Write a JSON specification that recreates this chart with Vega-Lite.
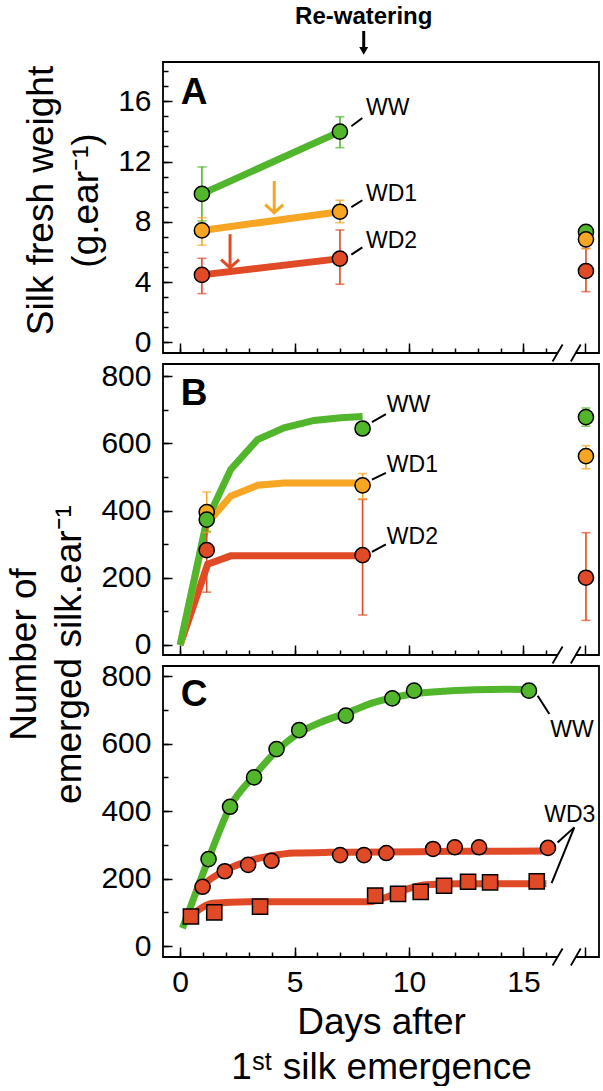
{
"$schema": "https://vega.github.io/schema/vega-lite/v6.json",
"padding": {"left": 4, "top": 4, "right": 0, "bottom": 0},
"background": "white",
"spacing": 11,
"bounds": "flush",
"config": {
  "font": "Liberation Sans",
  "view": {"stroke": "#000", "strokeWidth": 1.8},
  "axis": {"grid": false, "domain": false, "labelFont": "Liberation Sans", "titleFont": "Liberation Sans", "labelFontSize": 30, "titleFontSize": 37, "titleFontWeight": "normal", "labelColor": "#000", "titleColor": "#000", "tickColor": "#000", "tickWidth": 1.5, "labelFlush": false, "labelOverlap": false, "labelBound": false}
},
"datasets": {
  "pts": [
    {"p":"A","s":"WW","x":0.95,"y":9.85,"lo":8.06,"hi":11.64,"sh":"circle"},
    {"p":"A","s":"WW","x":6.98,"y":13.98,"lo":12.92,"hi":14.97,"sh":"circle"},
    {"p":"A","s":"WW","x":17.73,"y":7.33,"lo":null,"hi":null,"sh":"circle"},
    {"p":"A","s":"WD1","x":0.95,"y":7.43,"lo":6.45,"hi":8.28,"sh":"circle"},
    {"p":"A","s":"WD1","x":6.98,"y":8.67,"lo":7.94,"hi":9.43,"sh":"circle"},
    {"p":"A","s":"WD1","x":17.73,"y":6.84,"lo":6.2,"hi":7.4,"sh":"circle"},
    {"p":"A","s":"WD2","x":0.95,"y":4.48,"lo":3.24,"hi":5.58,"sh":"circle"},
    {"p":"A","s":"WD2","x":6.98,"y":5.56,"lo":3.86,"hi":7.46,"sh":"circle"},
    {"p":"A","s":"WD2","x":17.73,"y":4.74,"lo":3.37,"hi":6.25,"sh":"circle"},
    {"p":"B","s":"WD1","x":1.16,"y":395,"lo":335,"hi":455,"sh":"circle"},
    {"p":"B","s":"WW","x":1.16,"y":373,"lo":338,"hi":408,"sh":"circle"},
    {"p":"B","s":"WD2","x":1.16,"y":282,"lo":157,"hi":407,"sh":"circle"},
    {"p":"B","s":"WW","x":7.97,"y":644,"lo":630,"hi":658,"sh":"circle"},
    {"p":"B","s":"WD1","x":7.97,"y":475,"lo":435,"hi":510,"sh":"circle"},
    {"p":"B","s":"WD2","x":7.97,"y":267,"lo":89,"hi":433,"sh":"circle"},
    {"p":"B","s":"WW","x":17.73,"y":678,"lo":651,"hi":705,"sh":"circle"},
    {"p":"B","s":"WD1","x":17.73,"y":562,"lo":524,"hi":593,"sh":"circle"},
    {"p":"B","s":"WD2","x":17.73,"y":200,"lo":73,"hi":334,"sh":"circle"},
    {"p":"C","s":"WW","x":1.24,"y":258,"sh":"circle"},
    {"p":"C","s":"WW","x":2.18,"y":413,"sh":"circle"},
    {"p":"C","s":"WW","x":3.23,"y":500,"sh":"circle"},
    {"p":"C","s":"WW","x":4.21,"y":584,"sh":"circle"},
    {"p":"C","s":"WW","x":5.2,"y":640,"sh":"circle"},
    {"p":"C","s":"WW","x":7.24,"y":683,"sh":"circle"},
    {"p":"C","s":"WW","x":9.27,"y":734,"sh":"circle"},
    {"p":"C","s":"WW","x":10.22,"y":757,"sh":"circle"},
    {"p":"C","s":"WW","x":15.24,"y":757,"sh":"circle"},
    {"p":"C","s":"WD3","x":0.98,"y":176,"sh":"circle"},
    {"p":"C","s":"WD3","x":1.95,"y":222,"sh":"circle"},
    {"p":"C","s":"WD3","x":2.97,"y":241,"sh":"circle"},
    {"p":"C","s":"WD3","x":3.99,"y":253,"sh":"circle"},
    {"p":"C","s":"WD3","x":6.99,"y":270,"sh":"circle"},
    {"p":"C","s":"WD3","x":8.03,"y":270,"sh":"circle"},
    {"p":"C","s":"WD3","x":9.01,"y":276,"sh":"circle"},
    {"p":"C","s":"WD3","x":11.05,"y":288,"sh":"circle"},
    {"p":"C","s":"WD3","x":12.0,"y":293,"sh":"circle"},
    {"p":"C","s":"WD3","x":13.06,"y":293,"sh":"circle"},
    {"p":"C","s":"WD3","x":16.07,"y":291,"sh":"circle"},
    {"p":"C","s":"WD3","x":0.47,"y":88,"sh":"square"},
    {"p":"C","s":"WD3","x":1.49,"y":100,"sh":"square"},
    {"p":"C","s":"WD3","x":3.49,"y":117,"sh":"square"},
    {"p":"C","s":"WD3","x":8.52,"y":150,"sh":"square"},
    {"p":"C","s":"WD3","x":9.52,"y":155,"sh":"square"},
    {"p":"C","s":"WD3","x":10.51,"y":161,"sh":"square"},
    {"p":"C","s":"WD3","x":11.53,"y":179,"sh":"square"},
    {"p":"C","s":"WD3","x":12.58,"y":191,"sh":"square"},
    {"p":"C","s":"WD3","x":13.54,"y":189,"sh":"square"},
    {"p":"C","s":"WD3","x":15.58,"y":192,"sh":"square"}
  ],
  "lns": [
    {"p":"A","s":"WW","g":"a1","x":0.95,"y":9.85},
    {"p":"A","s":"WW","g":"a1","x":6.98,"y":13.98},
    {"p":"A","s":"WD1","g":"a2","x":0.95,"y":7.43},
    {"p":"A","s":"WD1","g":"a2","x":6.98,"y":8.67},
    {"p":"A","s":"WD2","g":"a3","x":0.95,"y":4.48},
    {"p":"A","s":"WD2","g":"a3","x":6.98,"y":5.56},
    {"p":"B","s":"WD2","g":"b3","x":0,"y":0},
    {"p":"B","s":"WD2","g":"b3","x":1.2,"y":240},
    {"p":"B","s":"WD2","g":"b3","x":2.21,"y":265},
    {"p":"B","s":"WD2","g":"b3","x":7.97,"y":265},
    {"p":"B","s":"WD1","g":"b2","x":0,"y":0},
    {"p":"B","s":"WD1","g":"b2","x":1.16,"y":360},
    {"p":"B","s":"WD1","g":"b2","x":2.21,"y":443},
    {"p":"B","s":"WD1","g":"b2","x":3.38,"y":475},
    {"p":"B","s":"WD1","g":"b2","x":4.54,"y":482},
    {"p":"B","s":"WD1","g":"b2","x":7.97,"y":482},
    {"p":"B","s":"WW","g":"b1","x":0,"y":0},
    {"p":"B","s":"WW","g":"b1","x":1.16,"y":370},
    {"p":"B","s":"WW","g":"b1","x":2.21,"y":522},
    {"p":"B","s":"WW","g":"b1","x":3.38,"y":611},
    {"p":"B","s":"WW","g":"b1","x":4.54,"y":646},
    {"p":"B","s":"WW","g":"b1","x":5.85,"y":668},
    {"p":"B","s":"WW","g":"b1","x":7.02,"y":676},
    {"p":"B","s":"WW","g":"b1","x":7.97,"y":680},
    {"p":"C","s":"WW","g":"c1","x":0.1,"y":53},
    {"p":"C","s":"WW","g":"c1","x":0.47,"y":120},
    {"p":"C","s":"WW","g":"c1","x":1.24,"y":258},
    {"p":"C","s":"WW","g":"c1","x":2.18,"y":413},
    {"p":"C","s":"WW","g":"c1","x":3.23,"y":505},
    {"p":"C","s":"WW","g":"c1","x":4.21,"y":578},
    {"p":"C","s":"WW","g":"c1","x":5.2,"y":632},
    {"p":"C","s":"WW","g":"c1","x":6.2,"y":665},
    {"p":"C","s":"WW","g":"c1","x":7.24,"y":690},
    {"p":"C","s":"WW","g":"c1","x":8.48,"y":722},
    {"p":"C","s":"WW","g":"c1","x":9.27,"y":736},
    {"p":"C","s":"WW","g":"c1","x":10.22,"y":748},
    {"p":"C","s":"WW","g":"c1","x":11.5,"y":755},
    {"p":"C","s":"WW","g":"c1","x":12.84,"y":760},
    {"p":"C","s":"WW","g":"c1","x":14.3,"y":761},
    {"p":"C","s":"WW","g":"c1","x":15.24,"y":760},
    {"p":"C","s":"WD3","g":"c2","x":0.7,"y":160},
    {"p":"C","s":"WD3","g":"c2","x":0.98,"y":180},
    {"p":"C","s":"WD3","g":"c2","x":1.95,"y":224},
    {"p":"C","s":"WD3","g":"c2","x":2.97,"y":252},
    {"p":"C","s":"WD3","g":"c2","x":3.99,"y":268},
    {"p":"C","s":"WD3","g":"c2","x":5.0,"y":276},
    {"p":"C","s":"WD3","g":"c2","x":6.5,"y":278},
    {"p":"C","s":"WD3","g":"c2","x":9.0,"y":279},
    {"p":"C","s":"WD3","g":"c2","x":12.0,"y":281},
    {"p":"C","s":"WD3","g":"c2","x":16.2,"y":282},
    {"p":"C","s":"WD3","g":"c3","x":0.3,"y":85},
    {"p":"C","s":"WD3","g":"c3","x":0.47,"y":92},
    {"p":"C","s":"WD3","g":"c3","x":1.41,"y":127},
    {"p":"C","s":"WD3","g":"c3","x":3.0,"y":132},
    {"p":"C","s":"WD3","g":"c3","x":8.3,"y":132},
    {"p":"C","s":"WD3","g":"c3","x":9.0,"y":145},
    {"p":"C","s":"WD3","g":"c3","x":10.05,"y":172},
    {"p":"C","s":"WD3","g":"c3","x":10.77,"y":182},
    {"p":"C","s":"WD3","g":"c3","x":12.2,"y":185},
    {"p":"C","s":"WD3","g":"c3","x":16.0,"y":185}
  ],
  "lbl": [
    {"p":"A","k":"lab","t":"WW","x":8.12,"y":15.07},
    {"p":"A","k":"lab","t":"WD1","x":8.12,"y":9.38},
    {"p":"A","k":"lab","t":"WD2","x":8.12,"y":6.29},
    {"p":"A","k":"let","t":"A","x":0.03,"y":15.8},
    {"p":"A","k":"rw","t":"Re-watering","x":8.02,"y":21.12},
    {"p":"B","k":"lab","t":"WW","x":9.03,"y":692},
    {"p":"B","k":"lab","t":"WD1","x":9.03,"y":515},
    {"p":"B","k":"lab","t":"WD2","x":9.03,"y":299},
    {"p":"B","k":"let","t":"B","x":0.03,"y":713},
    {"p":"C","k":"lab","t":"WW","x":16.17,"y":620.6},
    {"p":"C","k":"lab","t":"WD3","x":15.91,"y":366.7},
    {"p":"C","k":"let","t":"C","x":0.03,"y":712}
  ],
  "ldr": [
    {"p":"A","x":7.48,"y":14.34,"x2":7.96,"y2":14.89},
    {"p":"A","x":7.48,"y":8.98,"x2":7.96,"y2":9.43},
    {"p":"A","x":7.48,"y":5.82,"x2":7.96,"y2":6.31},
    {"p":"B","x":8.38,"y":663,"x2":8.99,"y2":687},
    {"p":"B","x":8.38,"y":492,"x2":8.99,"y2":512},
    {"p":"B","x":8.38,"y":277,"x2":8.99,"y2":299},
    {"p":"C","x":15.62,"y":742,"x2":16.13,"y2":688},
    {"p":"C","x":17.22,"y":352,"x2":16.49,"y2":307},
    {"p":"C","x":17.22,"y":352,"x2":16.23,"y2":187}
  ],
  "brk": [
    {"p":"A","k":"gap","x":16.49,"x2":17.28,"y":-0.7,"y2":-0.7},
    {"p":"A","k":"sl","x":16.27,"x2":16.71,"y":-1.26,"y2":-0.14},
    {"p":"A","k":"sl","x":17.07,"x2":17.5,"y":-1.26,"y2":-0.14},
    {"p":"B","k":"gap","x":16.49,"x2":17.28,"y":-30,"y2":-30},
    {"p":"B","k":"sl","x":16.27,"x2":16.71,"y":-55.3,"y2":-4.7},
    {"p":"B","k":"sl","x":17.07,"x2":17.5,"y":-55.3,"y2":-4.7},
    {"p":"C","k":"gap","x":16.49,"x2":17.28,"y":-32,"y2":-32},
    {"p":"C","k":"sl","x":16.27,"x2":16.71,"y":-57.2,"y2":-6.8},
    {"p":"C","k":"sl","x":17.07,"x2":17.5,"y":-57.2,"y2":-6.8}
  ],
  "arr": [
    {"s":"WD1","x":4.11,"y":10.71,"y2":8.61,"hy":8.61},
    {"s":"WD2","x":2.18,"y":7.18,"y2":4.96,"hy":4.96},
    {"s":"K","x":8.02,"y":20.66,"y2":19.5,"hy":19.33}
  ]
},
"vconcat": [
 {
  "width": 436, "height": 291,
  "resolve": {"axis": {"x": "independent", "y": "independent"}},
  "layer": [
   {"data": {"name": "lns"}, "transform": [{"filter": "datum.p==='A'"}],
    "mark": {"type": "line", "strokeWidth": 7},
    "encoding": {
      "x": {"field": "x", "type": "quantitative", "scale": {"domain": [-0.75, 18.3], "nice": false, "zero": false}, "axis": null},
      "y": {"field": "y", "type": "quantitative", "scale": {"domain": [-0.7, 18.6], "nice": false, "zero": false},
            "axis": {"orient": "left", "values": [0, 4, 8, 12, 16], "ticks": false, "labelPadding": 12, "title": ["Silk fresh weight", "(g.ear⁻¹)"], "titleX": -111, "titleY": 138, "titleAngle": -90, "titleAlign": "center", "titleBaseline": "alphabetic", "titleLineHeight": 45}},
      "color": {"field": "s", "type": "nominal", "scale": {"domain": ["WW","WD1","WD2","WD3","K"], "range": ["#52b62c","#f6a623","#e04a26","#e04a26","#000000"]}, "legend": null},
      "detail": {"field": "g"}}},
   {"data": {"name": "brk"}, "transform": [{"filter": "datum.p==='A' && datum.k==='gap'"}],
    "mark": {"type": "rule", "color": "white", "strokeWidth": 4},
    "encoding": {
      "x": {"field": "x", "type": "quantitative", "axis": {"orient": "bottom", "values": [0, 5, 10, 15, 17.7], "labels": false, "tickSize": -10, "title": null}},
      "x2": {"field": "x2"},
      "y": {"field": "y", "type": "quantitative", "axis": {"orient": "left", "values": [0, 4, 8, 12, 16], "labels": false, "tickSize": -9, "title": null}},
      "y2": {"field": "y2"}}},
   {"data": {"name": "brk"}, "transform": [{"filter": "datum.p==='A' && datum.k==='sl'"}],
    "mark": {"type": "rule", "color": "black", "strokeWidth": 1.8},
    "encoding": {
      "x": {"field": "x", "type": "quantitative", "axis": {"orient": "bottom", "values": [0,1,2,3,4,5,6,7,8,9,10,11,12,13,14,15,16], "labels": false, "tickSize": -5, "title": null}},
      "x2": {"field": "x2"},
      "y": {"field": "y", "type": "quantitative", "axis": {"orient": "left", "values": [0,1,2,3,4,5,6,7,8,9,10,11,12,13,14,15,16,17,18], "labels": false, "tickSize": -5, "title": null}},
      "y2": {"field": "y2"}}},
   {"data": {"name": "pts"}, "transform": [{"filter": "datum.p==='A' && datum.lo != null"}],
    "mark": {"type": "rule", "strokeWidth": 1.6},
    "encoding": {"x": {"field": "x", "type": "quantitative", "axis": null}, "y": {"field": "lo", "type": "quantitative", "axis": null}, "y2": {"field": "hi"}, "color": {"field": "s", "type": "nominal", "legend": null}}},
   {"data": {"name": "pts"}, "transform": [{"filter": "datum.p==='A' && datum.lo != null"}],
    "mark": {"type": "tick", "orient": "horizontal", "size": 9, "thickness": 1.6},
    "encoding": {"x": {"field": "x", "type": "quantitative", "axis": null}, "y": {"field": "hi", "type": "quantitative", "axis": null}, "color": {"field": "s", "type": "nominal", "legend": null}}},
   {"data": {"name": "pts"}, "transform": [{"filter": "datum.p==='A' && datum.lo != null"}],
    "mark": {"type": "tick", "orient": "horizontal", "size": 9, "thickness": 1.6},
    "encoding": {"x": {"field": "x", "type": "quantitative", "axis": null}, "y": {"field": "lo", "type": "quantitative", "axis": null}, "color": {"field": "s", "type": "nominal", "legend": null}}},
   {"data": {"name": "pts"}, "transform": [{"filter": "datum.p==='A'"}],
    "mark": {"type": "point", "filled": true, "opacity": 1, "stroke": "black", "strokeWidth": 1.5, "size": 230},
    "encoding": {"x": {"field": "x", "type": "quantitative", "axis": null}, "y": {"field": "y", "type": "quantitative", "axis": null}, "color": {"field": "s", "type": "nominal", "legend": null}, "shape": {"field": "sh", "type": "nominal", "scale": {"domain": ["circle","square"], "range": ["circle","square"]}, "legend": null}}},
   {"data": {"name": "ldr"}, "transform": [{"filter": "datum.p==='A'"}],
    "mark": {"type": "rule", "color": "black", "strokeWidth": 2},
    "encoding": {"x": {"field": "x", "type": "quantitative", "axis": null}, "x2": {"field": "x2"}, "y": {"field": "y", "type": "quantitative", "axis": null}, "y2": {"field": "y2"}}},
   {"data": {"name": "lbl"}, "transform": [{"filter": "datum.p==='A' && datum.k==='lab'"}],
    "mark": {"type": "text", "align": "left", "baseline": "alphabetic", "fontSize": 23, "font": "Liberation Sans", "color": "black"},
    "encoding": {"x": {"field": "x", "type": "quantitative", "axis": null}, "y": {"field": "y", "type": "quantitative", "axis": null}, "text": {"field": "t"}}},
   {"data": {"name": "lbl"}, "transform": [{"filter": "datum.p==='A' && datum.k==='let'"}],
    "mark": {"type": "text", "align": "left", "baseline": "alphabetic", "fontSize": 37, "fontWeight": "bold", "font": "Liberation Sans", "color": "black"},
    "encoding": {"x": {"field": "x", "type": "quantitative", "axis": null}, "y": {"field": "y", "type": "quantitative", "axis": null}, "text": {"field": "t"}}},
   {"data": {"name": "lbl"}, "transform": [{"filter": "datum.p==='A' && datum.k==='rw'"}],
    "mark": {"type": "text", "align": "center", "baseline": "alphabetic", "fontSize": 24, "fontWeight": "bold", "font": "Liberation Sans", "color": "black"},
    "encoding": {"x": {"field": "x", "type": "quantitative", "axis": null}, "y": {"field": "y", "type": "quantitative", "axis": null}, "text": {"field": "t"}}},
   {"data": {"name": "arr"},
    "mark": {"type": "rule", "strokeWidth": 3},
    "encoding": {"x": {"field": "x", "type": "quantitative", "axis": null}, "y": {"field": "y", "type": "quantitative", "axis": null}, "y2": {"field": "y2"}, "color": {"field": "s", "type": "nominal", "legend": null}}},
   {"data": {"name": "arr"}, "transform": [{"filter": "datum.s!=='K'"}],
    "mark": {"type": "point", "filled": false, "opacity": 1, "strokeWidth": 3, "size": 324, "shape": "M-1,-0.9L0,0L1,-0.9"},
    "encoding": {"x": {"field": "x", "type": "quantitative", "axis": null}, "y": {"field": "hy", "type": "quantitative", "axis": null}, "color": {"field": "s", "type": "nominal", "legend": null}}},
   {"data": {"name": "arr"}, "transform": [{"filter": "datum.s==='K'"}],
    "mark": {"type": "point", "filled": true, "opacity": 1, "size": 80, "shape": "triangle-down", "color": "black"},
    "encoding": {"x": {"field": "x", "type": "quantitative", "axis": null}, "y": {"field": "hy", "type": "quantitative", "axis": null}}}
  ]
 },
 {
  "width": 436, "height": 291,
  "resolve": {"axis": {"x": "independent", "y": "independent"}},
  "layer": [
   {"data": {"name": "lns"}, "transform": [{"filter": "datum.p==='B'"}],
    "mark": {"type": "line", "strokeWidth": 7},
    "encoding": {
      "x": {"field": "x", "type": "quantitative", "scale": {"domain": [-0.75, 18.3], "nice": false, "zero": false}, "axis": null},
      "y": {"field": "y", "type": "quantitative", "scale": {"domain": [-30, 836], "nice": false, "zero": false},
            "axis": {"orient": "left", "values": [0, 200, 400, 600, 800], "ticks": false, "labelPadding": 12, "title": ["Number of", "emerged silk.ear⁻¹"], "titleX": -128, "titleY": 290, "titleAngle": -90, "titleAlign": "center", "titleBaseline": "alphabetic", "titleLineHeight": 45}},
      "color": {"field": "s", "type": "nominal", "legend": null},
      "detail": {"field": "g"}}},
   {"data": {"name": "brk"}, "transform": [{"filter": "datum.p==='B' && datum.k==='gap'"}],
    "mark": {"type": "rule", "color": "white", "strokeWidth": 4},
    "encoding": {
      "x": {"field": "x", "type": "quantitative", "axis": {"orient": "bottom", "values": [0, 5, 10, 15, 17.7], "labels": false, "tickSize": -10, "title": null}},
      "x2": {"field": "x2"},
      "y": {"field": "y", "type": "quantitative", "axis": {"orient": "left", "values": [0, 200, 400, 600, 800], "labels": false, "tickSize": -9, "title": null}},
      "y2": {"field": "y2"}}},
   {"data": {"name": "brk"}, "transform": [{"filter": "datum.p==='B' && datum.k==='sl'"}],
    "mark": {"type": "rule", "color": "black", "strokeWidth": 1.8},
    "encoding": {
      "x": {"field": "x", "type": "quantitative", "axis": {"orient": "bottom", "values": [0,1,2,3,4,5,6,7,8,9,10,11,12,13,14,15,16], "labels": false, "tickSize": -5, "title": null}},
      "x2": {"field": "x2"},
      "y": {"field": "y", "type": "quantitative", "axis": {"orient": "left", "values": [0,100,200,300,400,500,600,700,800], "labels": false, "tickSize": -5, "title": null}},
      "y2": {"field": "y2"}}},
   {"data": {"name": "pts"}, "transform": [{"filter": "datum.p==='B' && datum.lo != null"}],
    "mark": {"type": "rule", "strokeWidth": 1.6},
    "encoding": {"x": {"field": "x", "type": "quantitative", "axis": null}, "y": {"field": "lo", "type": "quantitative", "axis": null}, "y2": {"field": "hi"}, "color": {"field": "s", "type": "nominal", "legend": null}}},
   {"data": {"name": "pts"}, "transform": [{"filter": "datum.p==='B' && datum.lo != null"}],
    "mark": {"type": "tick", "orient": "horizontal", "size": 9, "thickness": 1.6},
    "encoding": {"x": {"field": "x", "type": "quantitative", "axis": null}, "y": {"field": "hi", "type": "quantitative", "axis": null}, "color": {"field": "s", "type": "nominal", "legend": null}}},
   {"data": {"name": "pts"}, "transform": [{"filter": "datum.p==='B' && datum.lo != null"}],
    "mark": {"type": "tick", "orient": "horizontal", "size": 9, "thickness": 1.6},
    "encoding": {"x": {"field": "x", "type": "quantitative", "axis": null}, "y": {"field": "lo", "type": "quantitative", "axis": null}, "color": {"field": "s", "type": "nominal", "legend": null}}},
   {"data": {"name": "pts"}, "transform": [{"filter": "datum.p==='B'"}],
    "mark": {"type": "point", "filled": true, "opacity": 1, "stroke": "black", "strokeWidth": 1.5, "size": 230},
    "encoding": {"x": {"field": "x", "type": "quantitative", "axis": null}, "y": {"field": "y", "type": "quantitative", "axis": null}, "color": {"field": "s", "type": "nominal", "legend": null}, "shape": {"field": "sh", "type": "nominal", "scale": {"domain": ["circle","square"], "range": ["circle","square"]}, "legend": null}}},
   {"data": {"name": "ldr"}, "transform": [{"filter": "datum.p==='B'"}],
    "mark": {"type": "rule", "color": "black", "strokeWidth": 2},
    "encoding": {"x": {"field": "x", "type": "quantitative", "axis": null}, "x2": {"field": "x2"}, "y": {"field": "y", "type": "quantitative", "axis": null}, "y2": {"field": "y2"}}},
   {"data": {"name": "lbl"}, "transform": [{"filter": "datum.p==='B' && datum.k==='lab'"}],
    "mark": {"type": "text", "align": "left", "baseline": "alphabetic", "fontSize": 23, "font": "Liberation Sans", "color": "black"},
    "encoding": {"x": {"field": "x", "type": "quantitative", "axis": null}, "y": {"field": "y", "type": "quantitative", "axis": null}, "text": {"field": "t"}}},
   {"data": {"name": "lbl"}, "transform": [{"filter": "datum.p==='B' && datum.k==='let'"}],
    "mark": {"type": "text", "align": "left", "baseline": "alphabetic", "fontSize": 37, "fontWeight": "bold", "font": "Liberation Sans", "color": "black"},
    "encoding": {"x": {"field": "x", "type": "quantitative", "axis": null}, "y": {"field": "y", "type": "quantitative", "axis": null}, "text": {"field": "t"}}}
  ]
 },
 {
  "width": 436, "height": 291,
  "resolve": {"axis": {"x": "independent", "y": "independent"}},
  "layer": [
   {"data": {"name": "lns"}, "transform": [{"filter": "datum.p==='C'"}],
    "mark": {"type": "line", "strokeWidth": 7, "interpolate": "monotone"},
    "encoding": {
      "x": {"field": "x", "type": "quantitative", "scale": {"domain": [-0.75, 18.3], "nice": false, "zero": false},
            "axis": {"orient": "bottom", "values": [0, 5, 10, 15], "ticks": false, "labelPadding": 10, "title": ["Days after", "1ˢᵗ silk emergence"], "titleY": 76, "titleBaseline": "alphabetic", "titleAlign": "center", "titleLineHeight": 45}},
      "y": {"field": "y", "type": "quantitative", "scale": {"domain": [-32, 830], "nice": false, "zero": false},
            "axis": {"orient": "left", "values": [0, 200, 400, 600, 800], "ticks": false, "labelPadding": 12, "title": null}},
      "color": {"field": "s", "type": "nominal", "legend": null},
      "detail": {"field": "g"}}},
   {"data": {"name": "brk"}, "transform": [{"filter": "datum.p==='C' && datum.k==='gap'"}],
    "mark": {"type": "rule", "color": "white", "strokeWidth": 4},
    "encoding": {
      "x": {"field": "x", "type": "quantitative", "axis": {"orient": "bottom", "values": [0, 5, 10, 15, 17.7], "labels": false, "tickSize": -10, "title": null}},
      "x2": {"field": "x2"},
      "y": {"field": "y", "type": "quantitative", "axis": {"orient": "left", "values": [0, 200, 400, 600, 800], "labels": false, "tickSize": -9, "title": null}},
      "y2": {"field": "y2"}}},
   {"data": {"name": "brk"}, "transform": [{"filter": "datum.p==='C' && datum.k==='sl'"}],
    "mark": {"type": "rule", "color": "black", "strokeWidth": 1.8},
    "encoding": {
      "x": {"field": "x", "type": "quantitative", "axis": {"orient": "bottom", "values": [0,1,2,3,4,5,6,7,8,9,10,11,12,13,14,15,16], "labels": false, "tickSize": -5, "title": null}},
      "x2": {"field": "x2"},
      "y": {"field": "y", "type": "quantitative", "axis": {"orient": "left", "values": [0,100,200,300,400,500,600,700,800], "labels": false, "tickSize": -5, "title": null}},
      "y2": {"field": "y2"}}},
   {"data": {"name": "pts"}, "transform": [{"filter": "datum.p==='C'"}],
    "mark": {"type": "point", "filled": true, "opacity": 1, "stroke": "black", "strokeWidth": 1.5, "size": 230},
    "encoding": {"x": {"field": "x", "type": "quantitative", "axis": null}, "y": {"field": "y", "type": "quantitative", "axis": null}, "color": {"field": "s", "type": "nominal", "legend": null}, "shape": {"field": "sh", "type": "nominal", "scale": {"domain": ["circle","square"], "range": ["circle","square"]}, "legend": null}}},
   {"data": {"name": "ldr"}, "transform": [{"filter": "datum.p==='C'"}],
    "mark": {"type": "rule", "color": "black", "strokeWidth": 2},
    "encoding": {"x": {"field": "x", "type": "quantitative", "axis": null}, "x2": {"field": "x2"}, "y": {"field": "y", "type": "quantitative", "axis": null}, "y2": {"field": "y2"}}},
   {"data": {"name": "lbl"}, "transform": [{"filter": "datum.p==='C' && datum.k==='lab'"}],
    "mark": {"type": "text", "align": "left", "baseline": "alphabetic", "fontSize": 23, "font": "Liberation Sans", "color": "black"},
    "encoding": {"x": {"field": "x", "type": "quantitative", "axis": null}, "y": {"field": "y", "type": "quantitative", "axis": null}, "text": {"field": "t"}}},
   {"data": {"name": "lbl"}, "transform": [{"filter": "datum.p==='C' && datum.k==='let'"}],
    "mark": {"type": "text", "align": "left", "baseline": "alphabetic", "fontSize": 37, "fontWeight": "bold", "font": "Liberation Sans", "color": "black"},
    "encoding": {"x": {"field": "x", "type": "quantitative", "axis": null}, "y": {"field": "y", "type": "quantitative", "axis": null}, "text": {"field": "t"}}}
  ]
 }
]
}
